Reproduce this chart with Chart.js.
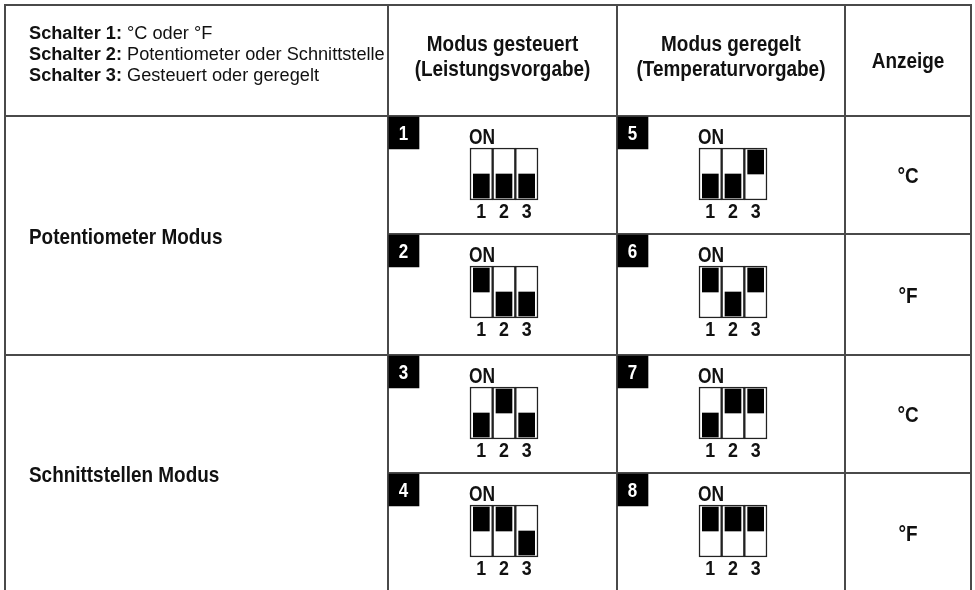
<!DOCTYPE html>
<html>
<head>
<meta charset="utf-8">
<script src="https://cdn.jsdelivr.net/npm/chart.js@4.4.1/dist/chart.umd.min.js"></script>
<style>
  html, body { margin: 0; padding: 0; background: #fff; }
  canvas { display: block; }
</style>
</head>
<body>
<canvas id="chart" width="975" height="590"></canvas>
<script>
// table content
const legendLabels = ['Schalter 1:', 'Schalter 2:', 'Schalter 3:'];
const legendTexts = ['°C oder °F', 'Potentiometer oder Schnittstelle', 'Gesteuert oder geregelt'];
const modeHeaders = [['Modus gesteuert', '(Leistungsvorgabe)'], ['Modus geregelt', '(Temperaturvorgabe)']];
const unitHeader = 'Anzeige';
const modes = ['Potentiometer Modus', 'Schnittstellen Modus'];
const units = ['°C', '°F', '°C', '°F'];
const switchLabels = ['1', '2', '3'];

// switch settings per configuration (1 = ON / up)
const configNumbers = [1, 2, 3, 4, 5, 6, 7, 8];
const switch1 = [0, 1, 0, 1, 0, 1, 0, 1];
const switch2 = [0, 0, 1, 1, 0, 0, 1, 1];
const switch3 = [0, 0, 0, 0, 1, 1, 1, 1];

// grid in canvas units
const colX = [5, 388, 617, 845, 971];
const rowY = [5, 116, 234, 355, 473, 593];
const SLOT_W = 68 / 3;
const FONT = "'Liberation Sans', Arial, sans-serif";

function cellOrigin(i) {
  return { left: colX[1 + Math.floor(i / 4)], top: rowY[1 + (i % 4)] };
}

const knobData = [], slotData = [], badgeData = [];
configNumbers.forEach((n, i) => {
  const { left, top } = cellOrigin(i);
  const hx = left + 82, hy = top + 32;
  [switch1[i], switch2[i], switch3[i]].forEach((on, k) => {
    const cx = hx + SLOT_W * (k + 0.5);
    slotData.push({ x: cx, y: [hy, hy + 52] });
    knobData.push({ x: cx, y: on ? [hy + 2, hy + 26] : [hy + 26, hy + 50] });
  });
  badgeData.push({ x: left + 16, y: [top + 1, top + 33] });
});

// text drawn with an optional horizontal squeeze (condensed look)
function drawText(ctx, text, x, y, font, align, sx) {
  ctx.save();
  ctx.font = font;
  ctx.textAlign = align;
  ctx.translate(x, y);
  ctx.scale(sx || 1, 1);
  ctx.fillText(text, 0, 0);
  ctx.restore();
}

const tablePlugin = {
  id: 'table',
  beforeDatasetsDraw(chart) {
    const { ctx, scales: { x, y } } = chart;
    const px = v => x.getPixelForValue(v), py = v => y.getPixelForValue(v);
    ctx.save();
    ctx.strokeStyle = '#4a4a4a';
    ctx.lineWidth = 2;
    const line = (x1, y1, x2, y2) => {
      ctx.beginPath(); ctx.moveTo(px(x1), py(y1)); ctx.lineTo(px(x2), py(y2)); ctx.stroke();
    };
    colX.forEach(c => line(c, rowY[0] - 1, c, 600));
    line(colX[0], rowY[0], colX[4], rowY[0]);
    line(colX[0], rowY[1], colX[4], rowY[1]);
    line(colX[0], rowY[3], colX[4], rowY[3]);
    line(colX[1], rowY[2], colX[4], rowY[2]);
    line(colX[1], rowY[4], colX[4], rowY[4]);
    ctx.restore();
  },
  afterDatasetsDraw(chart) {
    const { ctx, scales: { x, y } } = chart;
    const px = v => x.getPixelForValue(v), py = v => y.getPixelForValue(v);
    ctx.save();
    ctx.fillStyle = '#111';
    ctx.textBaseline = 'alphabetic';
    const bold = s => 'bold ' + s + 'px ' + FONT;
    const SQ = 0.86;

    // legend in header
    legendLabels.forEach((lab, i) => {
      const by = 39 + i * 21;
      drawText(ctx, lab, px(29), py(by), bold(18), 'left', 1.01);
      ctx.font = bold(18);
      const w = ctx.measureText(lab + ' ').width * 1.01;
      drawText(ctx, legendTexts[i], px(29) + w, py(by), '18px ' + FONT, 'left', 1.01);
    });

    // column headers
    modeHeaders.forEach((h, c) => {
      const cx = (colX[1 + c] + colX[2 + c]) / 2;
      drawText(ctx, h[0], px(cx), py(51), bold(22), 'center', SQ);
      drawText(ctx, h[1], px(cx), py(76), bold(22), 'center', SQ);
    });
    drawText(ctx, unitHeader, px((colX[3] + colX[4]) / 2), py(68), bold(22), 'center', SQ);

    // row labels
    modes.forEach((m, r) => {
      drawText(ctx, m, px(29), py((rowY[1 + 2 * r] + rowY[3 + 2 * r]) / 2 + 8), bold(22), 'left', SQ);
    });

    // units
    units.forEach((u, r) => {
      drawText(ctx, u, px((colX[3] + colX[4]) / 2), py((rowY[1 + r] + rowY[2 + r]) / 2 + 8), bold(22), 'center', SQ);
    });

    // badge numbers, ON and switch numbers
    configNumbers.forEach((n, i) => {
      const { left, top } = cellOrigin(i);
      ctx.fillStyle = '#fff';
      drawText(ctx, String(n), px(left + 15.5), py(top + 24), bold(20), 'center', 0.85);
      ctx.fillStyle = '#111';
      drawText(ctx, 'ON', px(left + 81), py(top + 28), bold(22), 'left', 0.79);
      switchLabels.forEach((s, k) => {
        drawText(ctx, s, px(left + 82 + SLOT_W * (k + 0.5)), py(top + 102), bold(21), 'center', 0.85);
      });
    });
    ctx.restore();
  }
};

new Chart(document.getElementById('chart'), {
  type: 'bar',
  data: {
    datasets: [
      { label: 'knobs', data: knobData, backgroundColor: '#000', barThickness: 16, grouped: false, order: 0 },
      { label: 'slots', data: slotData, backgroundColor: '#fff', borderColor: '#222', borderWidth: 1.5,
        borderSkipped: false, barThickness: SLOT_W, grouped: false, order: 1 },
      { label: 'badges', data: badgeData, backgroundColor: '#000', barThickness: 30, grouped: false, order: 2 }
    ]
  },
  options: {
    responsive: false,
    animation: false,
    layout: { padding: 0 },
    plugins: { legend: { display: false }, tooltip: { enabled: false } },
    scales: {
      x: { type: 'linear', min: 0, max: 975, offset: false, display: false },
      y: { type: 'linear', min: 0, max: 590, reverse: true, display: false }
    }
  },
  plugins: [tablePlugin]
});
</script>
</body>
</html>
